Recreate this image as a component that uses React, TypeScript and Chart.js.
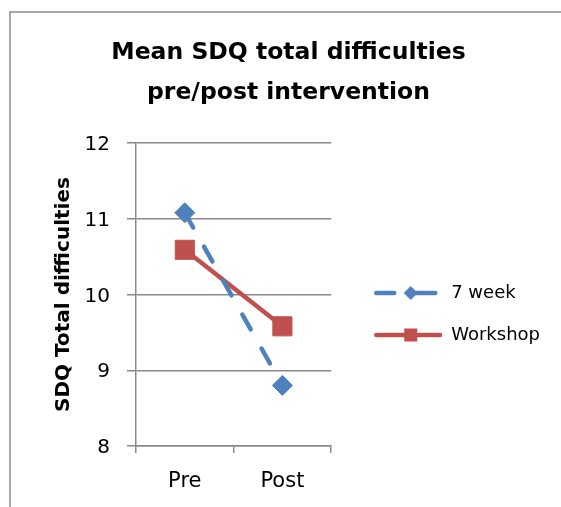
import React, { useEffect, useRef } from 'react';
import { Chart, registerables } from 'chart.js';

Chart.register(...registerables);

const categories = ['Pre', 'Post'];
const seriesNames = ['7 week', 'Workshop'];
const sevenWeek = [11.08, 8.8];
const workshop = [10.59, 9.58];
const yMin = 8;
const yMax = 12;
const yStep = 1;
const chartTitle = ['Mean SDQ total difficulties', 'pre/post intervention'];
const yTitle = 'SDQ Total difficulties';

const BLUE = '#4f81bd';
const RED = '#c0504d';
const GRID = '#898989';
const FONT = "'DejaVu Sans', sans-serif";

function makeSwatch(kind: 'diamond' | 'square'): HTMLCanvasElement {
  const c = document.createElement('canvas');
  c.width = 87;
  c.height = 24;
  const g = c.getContext('2d') as CanvasRenderingContext2D;
  const cy = 12;
  const mx = 55.5;
  g.lineCap = 'round';
  g.lineWidth = 4.5;
  if (kind === 'diamond') {
    g.strokeStyle = BLUE;
    g.fillStyle = BLUE;
    g.beginPath();
    g.moveTo(21, cy);
    g.lineTo(39, cy);
    g.stroke();
    g.beginPath();
    g.moveTo(58, cy);
    g.lineTo(80, cy);
    g.stroke();
    g.beginPath();
    g.moveTo(mx - 7, cy);
    g.lineTo(mx, cy - 7);
    g.lineTo(mx + 7, cy);
    g.lineTo(mx, cy + 7);
    g.closePath();
    g.fill();
  } else {
    g.strokeStyle = RED;
    g.fillStyle = RED;
    g.beginPath();
    g.moveTo(21, cy);
    g.lineTo(85, cy);
    g.stroke();
    g.fillRect(mx - 6.5, cy - 6.5, 13, 13);
  }
  return c;
}

const framePlugin = {
  id: 'frame',
  beforeDraw(chart: any) {
    const { ctx } = chart;
    ctx.save();
    ctx.fillStyle = '#ffffff';
    ctx.fillRect(0, 0, chart.width, chart.height);
    ctx.strokeStyle = '#8a8a8a';
    ctx.lineWidth = 1.5;
    ctx.strokeRect(10, 12, 900, 900);
    ctx.restore();
  },
};

export default function App() {
  const ref = useRef<HTMLCanvasElement | null>(null);

  useEffect(() => {
    if (!ref.current) return;
    const swatches = [makeSwatch('diamond'), makeSwatch('square')];
    const chart = new Chart(ref.current, {
      type: 'line',
      data: {
        labels: categories,
        datasets: [
          {
            label: seriesNames[0],
            data: sevenWeek,
            borderColor: BLUE,
            backgroundColor: BLUE,
            borderWidth: 4.5,
            borderDash: [17, 22],
            borderCapStyle: 'round',
            pointStyle: 'rectRot',
            pointRadius: 10,
            pointBorderWidth: 1,
            pointBackgroundColor: BLUE,
            pointBorderColor: BLUE,
            tension: 0,
          },
          {
            label: seriesNames[1],
            data: workshop,
            borderColor: RED,
            backgroundColor: RED,
            borderWidth: 4.5,
            pointStyle: 'rect',
            pointRadius: 13.5,
            pointBorderWidth: 1,
            pointBackgroundColor: RED,
            pointBorderColor: RED,
            tension: 0,
          },
        ],
      },
      options: {
        responsive: false,
        animation: false,
        events: [],
        layout: { padding: { left: 27, top: 0, right: 11, bottom: 0 } },
        plugins: {
          tooltip: { enabled: false },
          title: {
            display: true,
            text: chartTitle,
            color: '#000000',
            font: { family: FONT, size: 23.5, weight: 'bold', lineHeight: '40px' },
            padding: { top: 32.5, bottom: 30.5 },
          },
          legend: {
            display: true,
            position: 'right',
            align: 'center',
            fullSize: false,
            maxWidth: 225,
            title: {
              display: true,
              text: ' ',
              font: { family: FONT, size: 10, lineHeight: '10px' },
              padding: { top: 14.5, bottom: 14.5 },
            },
            labels: {
              usePointStyle: true,
              pointStyleWidth: 87,
              padding: 24,
              color: '#000000',
              font: { family: FONT, size: 18 },
              generateLabels: (c: any) =>
                c.data.datasets.map((ds: any, i: number) => ({
                  text: ds.label,
                  pointStyle: swatches[i],
                  fillStyle: ds.borderColor,
                  strokeStyle: ds.borderColor,
                  lineWidth: 0,
                  hidden: false,
                  datasetIndex: i,
                  fontColor: '#000000',
                })),
            },
          },
        },
        scales: {
          x: {
            type: 'category',
            offset: true,
            afterFit: (scale: any) => {
              scale.height = 61;
            },
            grid: {
              display: true,
              drawOnChartArea: false,
              drawTicks: true,
              tickLength: 7,
              offset: true,
              color: GRID,
              lineWidth: 1.5,
            },
            border: { display: true, color: GRID, width: 1.5 },
            ticks: {
              color: '#000000',
              font: { family: FONT, size: 21 },
              padding: 16,
            },
          },
          y: {
            min: yMin,
            max: yMax,
            afterFit: (scale: any) => {
              scale.width = 109;
            },
            ticks: {
              stepSize: yStep,
              color: '#000000',
              font: { family: FONT, size: 20 },
              padding: 17,
              labelOffset: 2,
            },
            grid: {
              color: GRID,
              lineWidth: 1.5,
              drawTicks: true,
              tickLength: 9,
            },
            border: { display: true, color: GRID, width: 1.5 },
            title: {
              display: true,
              text: yTitle,
              color: '#000000',
              font: { family: FONT, size: 20, weight: 'bold' },
              padding: { top: 25, bottom: 0 },
            },
          },
        },
      },
      plugins: [framePlugin],
    } as any);
    return () => chart.destroy();
  }, []);

  return (
    <div style={{ position: 'fixed', left: 0, top: 0, width: 561, height: 507, background: '#fff' }}>
      <canvas ref={ref} width={561} height={507} style={{ display: 'block', width: 561, height: 507 }} />
    </div>
  );
}
